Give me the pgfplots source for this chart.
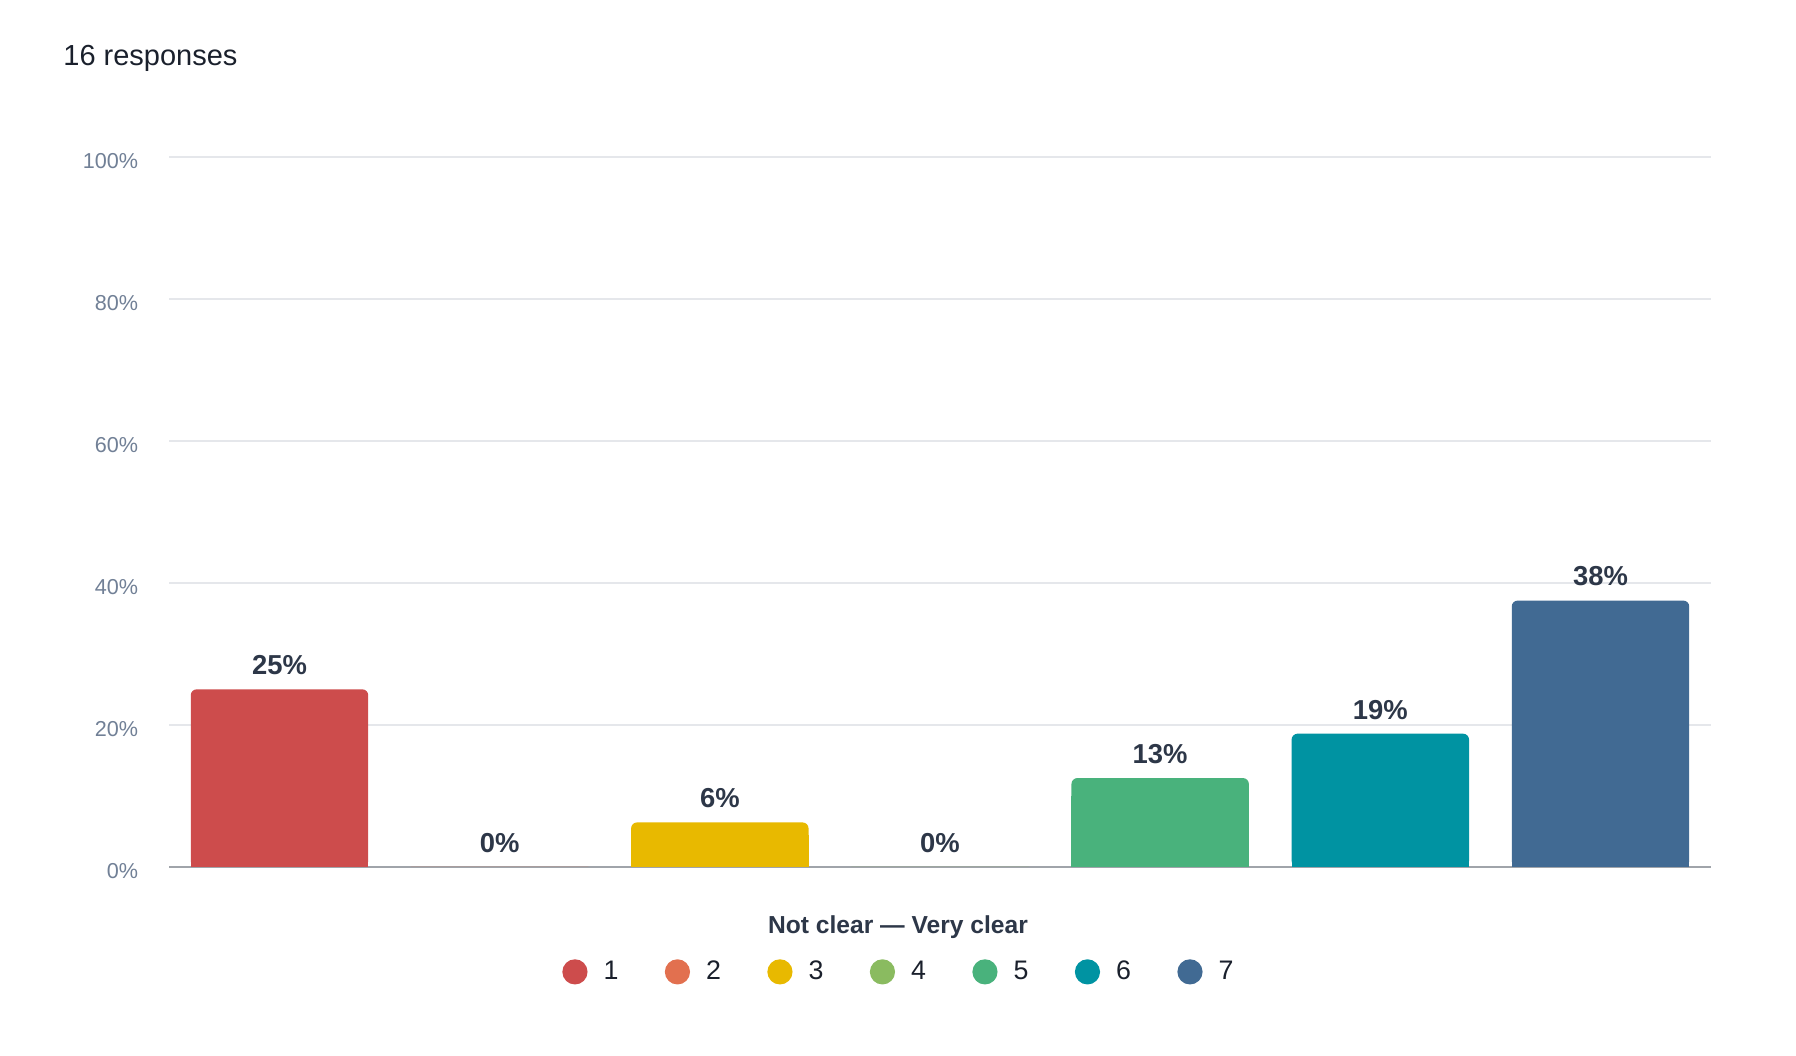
\documentclass[border=0pt]{standalone}
\usepackage{pgfplots}
\pgfplotsset{compat=1.18}
\usepackage{fontspec}
\setmainfont{Liberation Sans}
\definecolor{cA}{HTML}{CD4C4C}
\definecolor{cB}{HTML}{E2704F}
\definecolor{cC}{HTML}{E8B900}
\definecolor{cD}{HTML}{8ABB60}
\definecolor{cE}{HTML}{49B27C}
\definecolor{cF}{HTML}{0093A2}
\definecolor{cG}{HTML}{416A93}
\definecolor{gridc}{HTML}{E5E7EB}
\definecolor{axisc}{HTML}{A0A4AA}
\definecolor{tickc}{HTML}{718096}
\definecolor{labc}{HTML}{2D3748}
\definecolor{titlec}{HTML}{1A202C}
\begin{document}
\begin{tikzpicture}
\path[use as bounding box] (0,0) rectangle (898pt,528pt);
\node[anchor=base west, font=\fontsize{14.5}{17}\selectfont, text=titlec, inner sep=0pt] at (31.5pt,495.3pt) {16 responses};
\node[anchor=base, font=\bfseries\fontsize{12.3}{15}\selectfont, text=labc, inner sep=0pt] at (449pt,61.4pt) {Not clear — Very clear};
\begin{axis}[
  at={(84.7pt,94.6pt)}, anchor=south west,
  scale only axis, width=770.6pt, height=355pt,
  xmin=0.5, xmax=7.5, ymin=0, ymax=100,
  ytick={0,20,40,60,80,100},
  yticklabel={\pgfmathprintnumber{\tick}\%},
  /pgf/number format/assume math mode=true,
  xtick=\empty,
  major tick length=0pt,
  ymajorgrids,
  grid style={gridc, line width=0.8pt},
  axis x line*=bottom, axis y line*=left,
  x axis line style={axisc, line width=1pt, -},
  y axis line style={draw=none},
  yticklabel style={font=\fontsize{10.8}{13}\selectfont, text=tickc, anchor=east, inner sep=0pt, xshift=-15.5pt, yshift=-2pt},
  ybar, bar width=0.806, bar shift=0pt,
  point meta=explicit symbolic,
  nodes near coords,
  every node near coord/.append style={font=\bfseries\fontsize{13.7}{16}\selectfont, text=labc, anchor=south, inner sep=0pt, yshift=7pt},
  legend columns=7,
  legend style={draw=none, fill=none, at={(0.4727,-0.148)}, anchor=center,
    font=\fontsize{13.4}{16}\selectfont, text=titlec,
    nodes={inner sep=0pt},
    /tikz/every odd column/.append style={column sep=8pt},
    /tikz/every even column/.append style={column sep=23.2pt}},
  legend cell align=left,
  legend image code/.code={\fill[#1] (6.3pt,0pt) circle (6.3pt);},
  clip=false,
]
\addplot[fill=cA, draw=none, rounded corners=3pt] coordinates {(1,25) [25\%]};
\addplot[fill=cB, draw=none] coordinates {(2,0) [0\%]};
\addplot[fill=cC, draw=none, rounded corners=3pt] coordinates {(3,6.25) [6\%]};
\addplot[fill=cD, draw=none] coordinates {(4,0) [0\%]};
\addplot[fill=cE, draw=none, rounded corners=3pt] coordinates {(5,12.5) [13\%]};
\addplot[fill=cF, draw=none, rounded corners=3pt] coordinates {(6,18.75) [19\%]};
\addplot[fill=cG, draw=none, rounded corners=3pt] coordinates {(7,37.5) [38\%]};
\legend{1,2,3,4,5,6,7}
\addplot[fill=cA, draw=none, forget plot] coordinates {(1,20) []};
\addplot[fill=cC, draw=none, forget plot] coordinates {(3,4.5) []};
\addplot[fill=cE, draw=none, forget plot] coordinates {(5,10) []};
\addplot[fill=cF, draw=none, forget plot] coordinates {(6,15) []};
\addplot[fill=cG, draw=none, forget plot] coordinates {(7,33) []};
\end{axis}
\end{tikzpicture}
\end{document}
